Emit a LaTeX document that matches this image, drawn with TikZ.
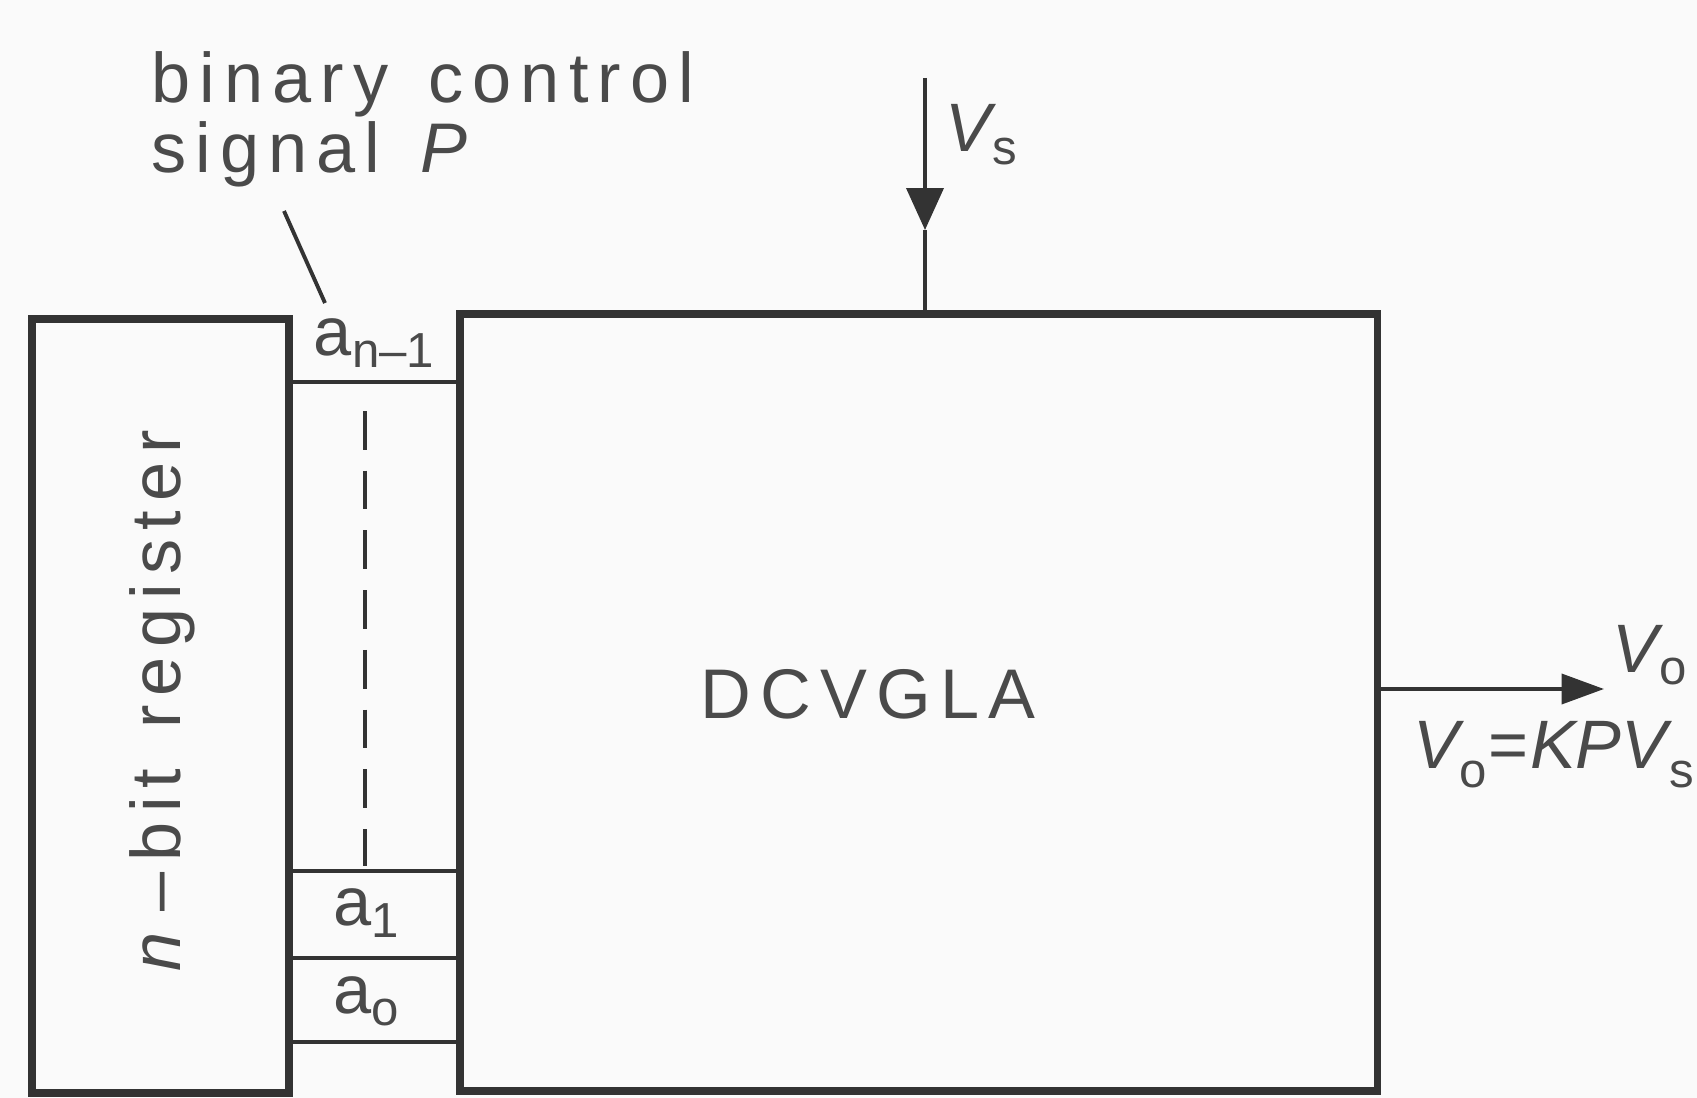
\documentclass[tikz,border=0pt]{standalone}
\usepackage{fontspec}
\setmainfont{Liberation Sans}
\newfontfamily\lab[LetterSpace=13,WordSpace=1.4]{Liberation Sans}
\newfontfamily\mth{Liberation Sans}
\usetikzlibrary{arrows.meta,fit}
\definecolor{ink}{HTML}{333333}
\definecolor{txt}{HTML}{4A4A4A}
\definecolor{paper}{HTML}{FAFAFA}
\newcommand\sbs[1]{\raisebox{-0.35ex}{\mth\fontsize{28}{28}\selectfont #1}}
\newcommand\sbl[1]{\raisebox{-0.55ex}{\mth\fontsize{28}{28}\selectfont #1}}
\begin{document}
\begin{tikzpicture}[x=0.02cm,y=-0.02cm,
  thick box/.style={draw=ink,line width=4pt,inner sep=0pt},
  thin line/.style={draw=ink,line width=2.2pt},
  lbl/.style={text=txt,inner sep=0pt,font=\lab\fontsize{40}{40}\selectfont},
  sym/.style={text=txt,inner sep=0pt,font=\mth\fontsize{39}{39}\selectfont},
  arr/.style={thin line,-{Triangle[length=0.85cm,width=0.6cm]}}]
\fill[paper] (0,0) rectangle (1697,1098);
\useasboundingbox (0,0) rectangle (1697,1098);
% box corners
\coordinate (r1) at (32,319);
\coordinate (r2) at (289,1093);
\coordinate (d1) at (460,314);
\coordinate (d2) at (1377,1091);
\node[thick box,fit=(r1)(r2)] (reg) {};
\node[thick box,fit=(d1)(d2)] (dcv) {};
% register text
\node[lbl,rotate=90] (regtxt) at (162,701) {\textit{n}\,–\,bit register};
\node[lbl] (dcvtxt) at (868,694) {DCVGLA};
% bit rows
\foreach \n/\y in {l1/382,l2/871,l3/958,l4/1042}{
  \coordinate (\n a) at (289,\y);
  \coordinate (\n b) at (460,\y);
}
\draw[thin line] (l1a) -- (l1b);
\draw[thin line] (l2a) -- (l2b);
\draw[thin line] (l3a) -- (l3b);
\draw[thin line] (l4a) -- (l4b);
\coordinate (dsh1) at (365,411);
\coordinate (dsh2) at (365,866);
\draw[thin line,dash pattern=on 22pt off 12pt] (dsh1) -- (dsh2);
\node[sym,anchor=base] (an) at (374,355) {a\sbs{n–1}};
\node[sym,anchor=base] (a1) at (366,925) {a\sbs{1}};
\node[sym,anchor=base] (a0) at (366,1013) {a\sbs{o}};
% binary control signal
\node[lbl,anchor=base west] (bin1) at (151,103) {binary control};
\node[lbl,anchor=base west] (bin2) at (151,173) {signal \textit{P}};
\coordinate (pl1) at (284,211);
\coordinate (pl2) at (325,303);
\draw[thin line] (pl1) -- (pl2);
% Vs input
\coordinate (vs0) at (925,78);
\coordinate (vsm) at (925,230);
\coordinate (vsb) at (925,314);
\draw[arr,-{Triangle[length=0.84cm,width=0.74cm]}] (vs0) -- (vsm);
\draw[thin line] (vsm) -- (vsb);
\node[sym,anchor=base west] (vs) at (945,152) {\textit{V}\kern-2pt\sbs{s}};
% output
\coordinate (vo) at (1604,689);
\draw[arr] (dcv.east |- vo) -- (vo);
\node[sym,anchor=base west] (vol) at (1612,672) {\textit{V}\kern-2pt\sbs{o}};
\node[sym,anchor=base east] (form) at (1694,768) {\textit{V}\kern-3pt\sbl{o}\kern1pt=\kern1pt\textit{KPV}\kern-2pt\sbl{s}};
\end{tikzpicture}
\end{document}
